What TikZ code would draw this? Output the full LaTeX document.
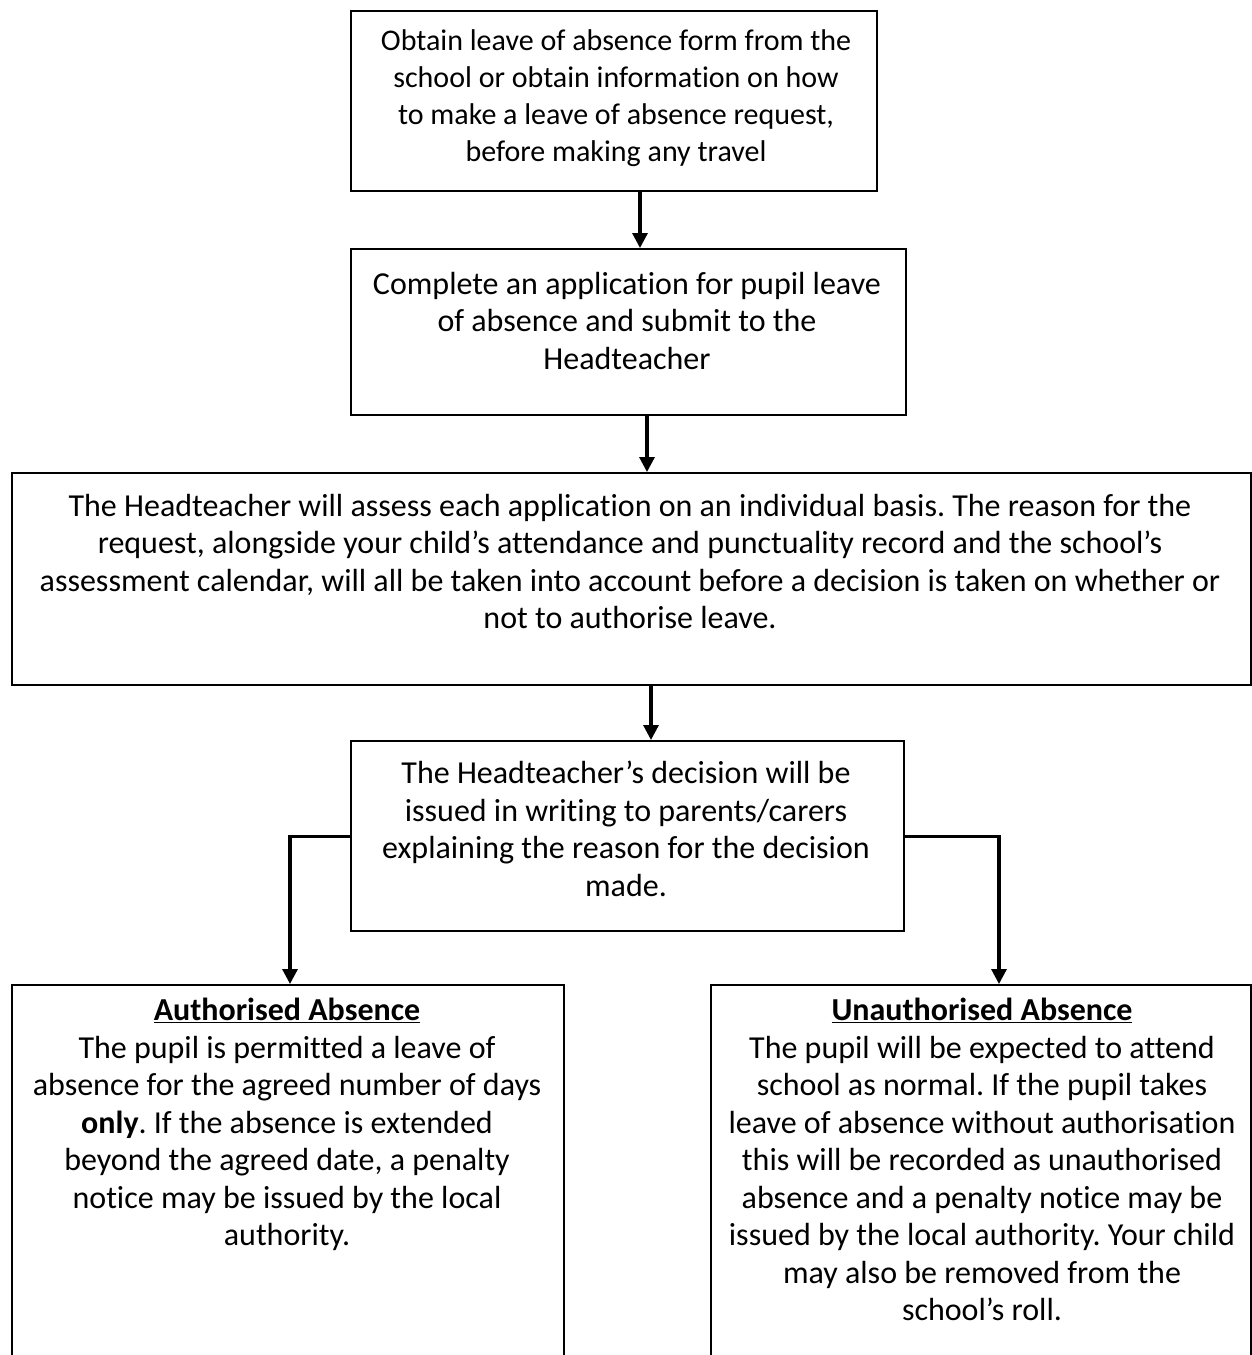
\documentclass[tikz,border=0pt]{standalone}
\usepackage{fontspec}
\setmainfont[Ligatures=NoCommon]{Carlito}
\usetikzlibrary{arrows.meta}
\frenchspacing
\begin{document}
\begin{tikzpicture}[x=1pt,y=-1pt,
  box/.style={draw,line width=2.4pt,rectangle,inner sep=0pt,anchor=north west},
  txt/.style={anchor=north,align=center,inner sep=0pt,font=\fontsize{32}{37.5}\selectfont},
  smalltxt/.style={txt,font=\fontsize{30}{37}\selectfont},
  conn/.style={line width=3.2pt,-{Triangle[width=15pt,length=15pt]}}]
\clip (0,0) rectangle (1252,1355);
\fill[white] (0,0) rectangle (1252,1355);
% boxes
\node[box,minimum width=526pt,minimum height=180pt] (b1) at (350,10) {};
\node[box,minimum width=555pt,minimum height=166pt] (b2) at (350,248) {};
\node[box,minimum width=1239pt,minimum height=212pt] (b3) at (11,472) {};
\node[box,minimum width=553pt,minimum height=190pt] (b4) at (350,740) {};
\node[box,minimum width=552pt,minimum height=420pt] (b5) at (11,984) {};
\node[box,minimum width=540pt,minimum height=420pt] (b6) at (710,984) {};
% texts
\node[smalltxt] (t1) at (616,29) {Obtain leave of absence form from the\\school or obtain information on how\\to make a leave of absence request,\\before making any travel};
\node[txt] (t2) at (627,272) {Complete an application for pupil leave\\of absence and submit to the\\Headteacher};
\node[txt] (t3) at (630,494) {The Headteacher will assess each application on an individual basis. The reason for the\\request, alongside your child’s attendance and punctuality record and the school’s\\assessment calendar, will all be taken into account before a decision is taken on whether or\\not to authorise leave.};
\node[txt] (t4) at (626,761) {The Headteacher’s decision will be\\issued in writing to parents/carers\\explaining the reason for the decision\\made.};
\node[txt] (t5) at (287,998) {\underline{\textbf{Authorised Absence}}\\The pupil is permitted a leave of\\absence for the agreed number of days\\\textbf{only}. If the absence is extended\\beyond the agreed date, a penalty\\notice may be issued by the local\\authority.};
\node[txt] (t6) at (982,998) {\underline{\textbf{Unauthorised Absence}}\\The pupil will be expected to attend\\school as normal. If the pupil takes\\leave of absence without authorisation\\this will be recorded as unauthorised\\absence and a penalty notice may be\\issued by the local authority. Your child\\may also be removed from the\\school’s roll.};
% connectors
\coordinate (x1) at (640,0);
\coordinate (x2) at (647,0);
\coordinate (x3) at (651,0);
\coordinate (x5) at (290,0);
\coordinate (x6) at (999,0);
\draw[conn] (b1.south -| x1) -- (b2.north -| x1);
\draw[conn] (b2.south -| x2) -- (b3.north -| x2);
\draw[conn] (b3.south -| x3) -- (b4.north -| x3);
\draw[conn] (b4.west) -| (b5.north -| x5);
\draw[conn] (b4.east) -| (b6.north -| x6);
\end{tikzpicture}
\end{document}
